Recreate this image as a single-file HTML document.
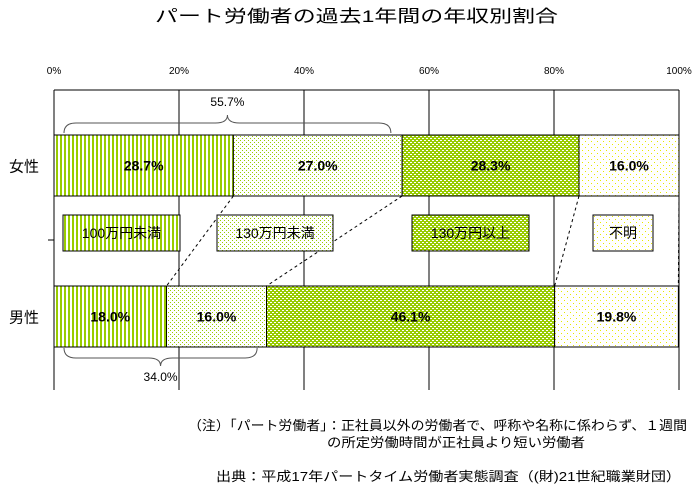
<!DOCTYPE html>
<html><head><meta charset="utf-8"><style>
body{margin:0;background:#fff;width:697px;height:491px;overflow:hidden;font-family:"Liberation Sans","Noto Sans CJK JP",sans-serif}
svg text{font-family:"Liberation Sans","Noto Sans CJK JP",sans-serif}
pattern rect{shape-rendering:crispEdges}
</style></head><body>
<svg width="697" height="491">
<defs>
<pattern id="pStripe" width="4" height="4" patternUnits="userSpaceOnUse"><rect width="4" height="4" fill="#fff"/><rect width="2" height="4" fill="#99cc00"/></pattern>
<pattern id="pDot" width="4" height="4" patternUnits="userSpaceOnUse"><rect width="4" height="4" fill="#fff"/><rect width="1" height="1" fill="#99cc00"/><rect x="2" y="2" width="1" height="1" fill="#99cc00"/></pattern>
<pattern id="pGreen" width="4" height="4" patternUnits="userSpaceOnUse"><rect width="4" height="4" fill="#99cc00"/><rect width="2" height="1" fill="#fff"/><rect x="2" y="2" width="2" height="1" fill="#fff"/></pattern>
<pattern id="pYellow" width="6" height="6" patternUnits="userSpaceOnUse"><rect width="6" height="6" fill="#fff"/><rect width="1" height="1" fill="#e8e800"/><rect x="3" y="3" width="1" height="1" fill="#e8e800"/></pattern>
</defs>
<text x="155" y="22" font-size="17" textLength="403" lengthAdjust="spacingAndGlyphs">パート労働者の過去1年間の年収別割合</text>
<g id="axis"></g>
<g id="bars"></g>
<g id="annot"></g>
<text x="188" y="430" font-size="13" textLength="499" lengthAdjust="spacingAndGlyphs">（注）「パート労働者」：正社員以外の労働者で、呼称や名称に係わらず、１週間</text>
<text x="327" y="447" font-size="13" textLength="258" lengthAdjust="spacingAndGlyphs">の所定労働時間が正社員より短い労働者</text>
<text x="216" y="481" font-size="13" textLength="465" lengthAdjust="spacingAndGlyphs">出典：平成17年パートタイム労働者実態調査（(財)21世紀職業財団）</text>
</svg>
<script>
const categories=["女性","男性"];
const seriesNames=["100万円未満","130万円未満","130万円以上","不明"];
const female=[28.7,27.0,28.3,16.0];
const male=[18.0,16.0,46.1,19.8];
const ticks=[0,20,40,60,80,100];
const braceVals=[55.7,34.0];
const fills=["url(#pStripe)","url(#pDot)","url(#pGreen)","url(#pYellow)"];
const NS="http://www.w3.org/2000/svg";
const X0=54,X1=679,PT=90,PB=390;
const xs=v=>X0+(X1-X0)*v/100;
const rowY=[135,286],rowH=61;
function mk(t,a,p){const e=document.createElementNS(NS,t);for(const k in a)e.setAttribute(k,a[k]);p.appendChild(e);return e;}
const ax=document.getElementById('axis'),bg=document.getElementById('bars'),an=document.getElementById('annot');
ticks.forEach(t=>{
 const l=mk('line',{x1:xs(t),x2:xs(t),y1:PT,y2:PB,stroke:'#000'},ax);
 
 
 const tx=mk('text',{x:xs(t),y:74,'font-size':10,'text-anchor':'middle'},ax);tx.textContent=t+'%';
 
 
});
[PT,rowY[0],rowY[0]+rowH,rowY[1],rowY[1]+rowH].forEach(y=>mk('line',{x1:X0,x2:X1,y1:y,y2:y,stroke:'#000'},ax));
mk('line',{x1:48,x2:X0,y1:240,y2:240,stroke:'#000'},ax);
[female,male].forEach((vals,r)=>{
 let c=0;
 const lab=mk('text',{x:24,y:rowY[r]+rowH/2+6,'font-size':15,'text-anchor':'middle'},bg);lab.textContent=categories[r];
 
 
 vals.forEach((v,i)=>{
  const b=mk('rect',{x:xs(c),y:rowY[r],width:xs(c+v)-xs(c),height:rowH,fill:fills[i],stroke:'#000'},bg);
  
  
  const t=mk('text',{x:(xs(c)+xs(c+v))/2,y:rowY[r]+rowH/2+5,'font-size':14,'font-weight':'bold','text-anchor':'middle'},bg);t.textContent=v.toFixed(1)+'%';
  
  
  c+=v;
 });
});
let cf=0,cm=0;
for(let i=0;i<4;i++){cf+=female[i];cm+=male[i];
 mk('line',{x1:xs(cf),y1:rowY[0]+rowH,x2:xs(cm),y2:rowY[1],stroke:'#000','stroke-dasharray':'3,3'},an);}
const lg=[[63,117],[217,116],[412,117],[593,60]];
lg.forEach((p,i)=>{
 const r=mk('rect',{x:p[0],y:215,width:p[1],height:36,fill:fills[i],stroke:'#000'},an);
 
 
 const t=mk('text',{x:p[0]+p[1]/2,y:238,'font-size':14,'text-anchor':'middle'},an);t.textContent=seriesNames[i];
});
function brace(x1,x2,y,dir,val,ly){
 const m=(x1+x2)/2,h=10*dir;
 mk('path',{d:`M${x1},${y} Q${x1},${y-h} ${x1+12},${y-h} L${m-12},${y-h} Q${m},${y-h} ${m},${y-h*1.8} Q${m},${y-h} ${m+12},${y-h} L${x2-12},${y-h} Q${x2},${y-h} ${x2},${y}`,fill:'none',stroke:'#555'},an);
 const t=mk('text',{x:m,y:ly,'font-size':12,'text-anchor':'middle'},an);t.textContent=val.toFixed(1)+'%';
}
brace(xs(1.6),xs(female[0]+female[1]-1.8),133,1,braceVals[0],106);
brace(xs(1.6),xs(male[0]+male[1]-1.5),348,-1,braceVals[1],381);
</script>
</body></html>
